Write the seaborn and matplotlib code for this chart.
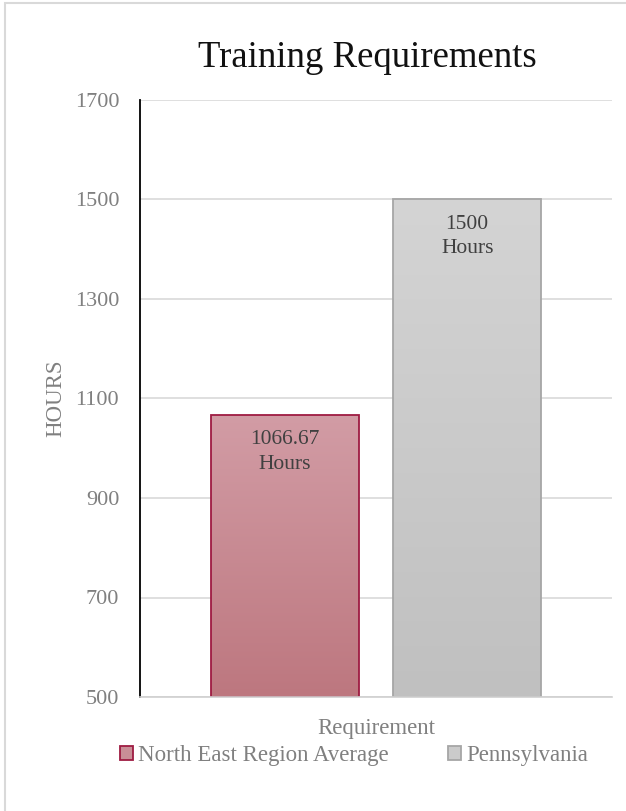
import numpy as np
import pandas as pd
import matplotlib.pyplot as plt
import seaborn as sns
from matplotlib.patches import Rectangle
from matplotlib.colors import to_rgb

# data
series = ["North East Region Average", "Pennsylvania"]
hours = [1066.67, 1500]
category = ["Requirement", "Requirement"]
bar_labels = ["1066.67\nHours", "1500\nHours"]

df = pd.DataFrame({"Requirement": category, "Series": series, "Hours": hours})

sns.set_style("white")
plt.rcParams["font.family"] = ["Liberation Serif", "DejaVu Serif"]

fig = plt.figure(figsize=(6.26, 8.11), dpi=100)
ax = fig.add_axes([140 / 626, 1 - 697 / 811, 472 / 626, 597 / 811])

pal = {"North East Region Average": "#c98e97", "Pennsylvania": "#cbcbcb"}
sns.barplot(data=df, x="Requirement", y="Hours", hue="Series", palette=pal,
            width=0.773, gap=0.19, ax=ax, legend=False, saturation=1)

ax.set_xlim(-0.5, 0.5)
ax.set_ylim(500, 1700)

# gradient fill + edge for each bar
edges = ["#9e1b42", "#a6a6a6"]
grads = [("#d29ca5", "#bd777f"), ("#d4d4d4", "#c0c0c0")]
bars = list(ax.patches)
for p, ec, (c1, c2) in zip(bars, edges, grads):
    p.set_edgecolor("none")
    x0, w = p.get_x(), p.get_width()
    top = p.get_y() + p.get_height()
    t = np.linspace(0, 1, 256)[:, None]
    img = (np.array(to_rgb(c1)) * (1 - t) + np.array(to_rgb(c2)) * t)[:, None, :]
    im = ax.imshow(img, extent=[x0, x0 + w, 500, top], aspect="auto",
                   zorder=p.get_zorder() + 0.1, origin="upper")
    im.set_clip_path(p)
    ax.add_patch(Rectangle((x0, 500), w, top - 500, fill=False,
                           edgecolor=ec, linewidth=1.3, zorder=p.get_zorder() + 0.2))

for p, lab in zip(bars, bar_labels):
    ax.annotate(lab, (p.get_x() + p.get_width() / 2, p.get_y() + p.get_height()),
                xytext=(0, -11), textcoords="offset points",
                ha="center", va="top", fontsize=15.5, color="#404040",
                linespacing=1.4, zorder=10)

ax.set_yticks(range(500, 1701, 200))
ax.yaxis.grid(True, color="#d9d9d9", linewidth=1.2)
ax.set_axisbelow(True)
ax.tick_params(axis="y", labelsize=16, labelcolor="#808080", length=0, pad=15)
ax.set_xticks([])
for s in ["top", "right"]:
    ax.spines[s].set_visible(False)
ax.spines["left"].set_color("#000000")
ax.spines["left"].set_linewidth(1.3)
ax.spines["bottom"].set_color("#d0d0d0")
ax.spines["bottom"].set_linewidth(1.2)

ax.set_ylabel("HOURS", fontsize=16.5, color="#808080", labelpad=6)
ax.set_xlabel("Requirement", fontsize=16.5, color="#808080", labelpad=15)
ax.set_title("Training Requirements", fontsize=26.5, color="#111111", pad=24, x=0.482)

handles = [Rectangle((0, 0), 1, 1, facecolor="#c98e97", edgecolor="#9e1b42", linewidth=1.3),
           Rectangle((0, 0), 1, 1, facecolor="#cbcbcb", edgecolor="#a6a6a6", linewidth=1.3)]
fig.legend(handles, series, loc="center", bbox_to_anchor=(354 / 626, 1 - 756 / 811),
           ncol=2, frameon=False, fontsize=16.5, labelcolor="#808080",
           handlelength=0.57, handleheight=0.57, handletextpad=0.22, columnspacing=2.6,
           borderpad=0, borderaxespad=0)

# outer chart border
fig.add_artist(Rectangle((5 / 626, -0.05), 1.2, 1 - 3 / 811 + 0.05, transform=fig.transFigure,
                         fill=False, edgecolor="#d9d9d9", linewidth=1.5))

fig.savefig("out.png", dpi=100)
